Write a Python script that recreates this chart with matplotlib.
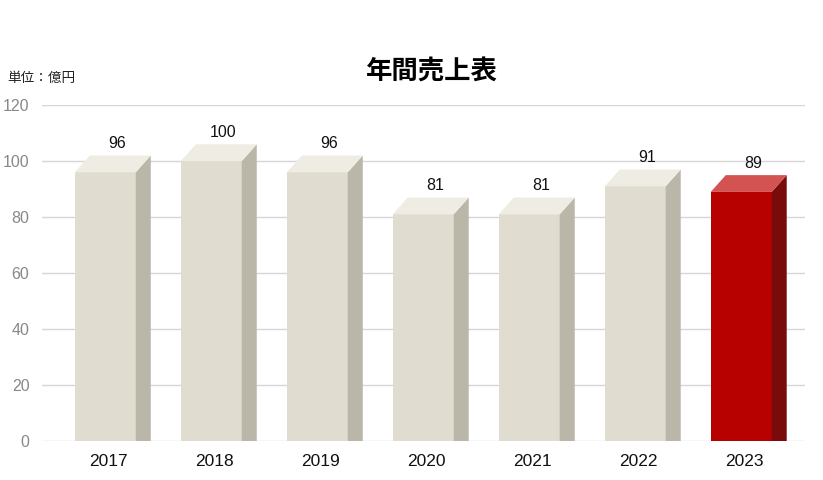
import numpy as np
import matplotlib
matplotlib.use('Agg')
import matplotlib.pyplot as plt
from matplotlib.patches import Polygon

plt.rcParams['font.family'] = ['Liberation Sans', 'Noto Sans CJK JP', 'DejaVu Sans']

# data
years = ['2017', '2018', '2019', '2020', '2021', '2022', '2023']
sales = [96, 100, 96, 81, 81, 91, 89]
yticks = [0, 20, 40, 60, 80, 100, 120]

# bar geometry (data units)
front_w = 0.575
dx = 0.142
dy = 6.0

beige = ('#e0dccf', '#bab6a8', '#efece4')
red = ('#b70000', '#7a0b0b', '#d35353')

fig = plt.figure(figsize=(8.23, 4.8), dpi=100)
ax = fig.add_axes([0.051, 0.081, 0.927, 0.70])

x = np.arange(len(years))
for i, v in enumerate(sales):
    front, side, top = red if i == len(sales) - 1 else beige
    x0 = x[i] - front_w / 2
    x1 = x0 + front_w
    ax.bar(x0, v, width=front_w, align='edge', color=front, zorder=3)
    ax.add_patch(Polygon([(x1, 0), (x1 + dx, 0), (x1 + dx, v + dy), (x1, v)],
                         closed=True, color=side, zorder=3, lw=0))
    ax.add_patch(Polygon([(x0, v), (x1, v), (x1 + dx, v + dy), (x0 + dx, v + dy)],
                         closed=True, color=top, zorder=3, lw=0))
    ax.text(x[i] + 0.115, v + dy + 1.6, str(v), ha='center', va='bottom',
            fontsize=11.5, color='#111111')

ax.set_xlim(-0.597, 6.601)
ax.set_ylim(0, 120)
ax.set_yticks(yticks)
ax.set_xticks(x + 0.03)
ax.set_xticklabels(years, fontsize=12.5, color='#111111')
ax.tick_params(axis='y', labelsize=11.5, labelcolor='#888888', length=0, pad=9)
ax.tick_params(axis='x', length=0, pad=9)
ax.grid(axis='y', color='#d6d6d6', lw=1, zorder=0)
ax.set_axisbelow(True)
for s in ax.spines.values():
    s.set_visible(False)

fig.text(0.525, 0.85, '年間売上表', ha='center', va='center', fontsize=19,
         fontweight='bold', family=['Noto Sans CJK JP', 'DejaVu Sans'])
fig.text(0.009, 0.838, '単位：億円', ha='left', va='center', fontsize=9.8,
         family=['Noto Sans CJK JP', 'DejaVu Sans'], color='#222222')

fig.savefig('out.png', dpi=100)
